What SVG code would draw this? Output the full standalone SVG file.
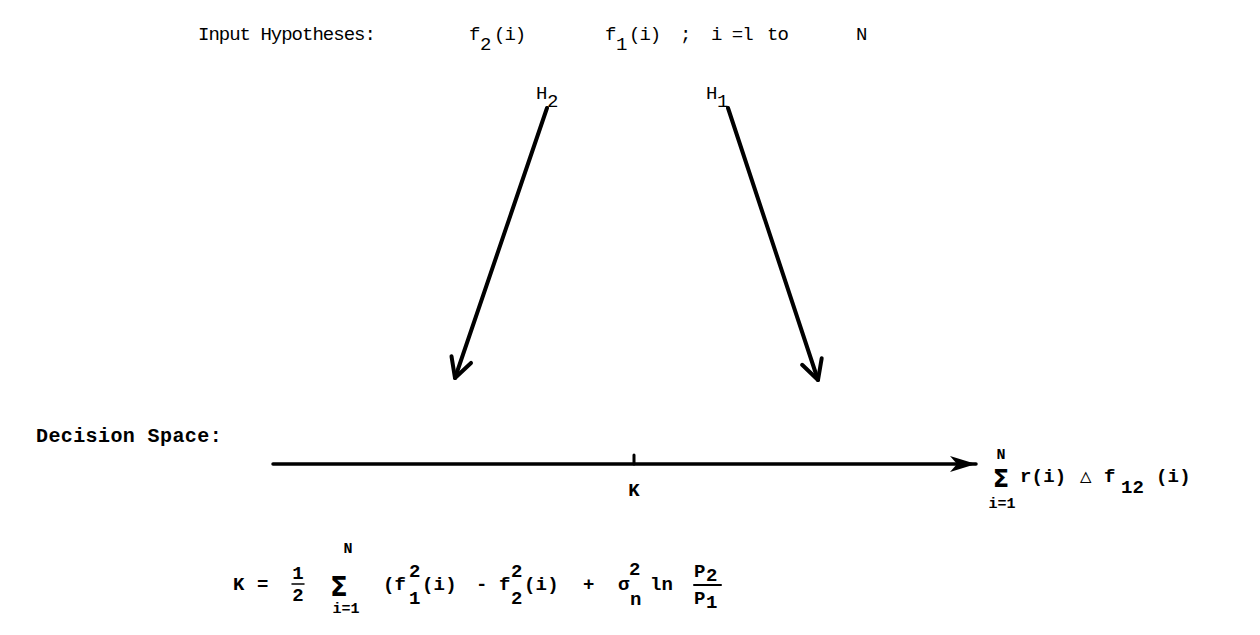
<svg xmlns="http://www.w3.org/2000/svg" width="1260" height="635" viewBox="0 0 1260 635">
<style>
.t{font-family:"Liberation Mono","Courier New",monospace;font-size:19px;fill:#000}
.n{letter-spacing:-1px}
.d{font-size:20px;letter-spacing:0.4px;font-weight:bold}
.b{font-weight:bold;font-size:19px;letter-spacing:0.2px}
.s{font-size:15px;letter-spacing:0}
.m{text-anchor:middle;letter-spacing:0}
.g{font-family:"DejaVu Sans",sans-serif;font-weight:bold;text-anchor:middle;fill:#000}
.ln{stroke:#000;fill:none;stroke-linecap:round;stroke-linejoin:round}
</style>
<defs>
<marker id="vee" markerUnits="userSpaceOnUse" viewBox="-26 -14 30 28" refX="0" refY="0" markerWidth="30" markerHeight="28" orient="auto">
<path d="M-19.4,-10.3 L0,0 L-19.4,10.3" fill="none" stroke="#000" stroke-width="4" stroke-linecap="round" stroke-linejoin="round"/>
</marker>
<marker id="solid" markerUnits="userSpaceOnUse" viewBox="-28 -10 30 20" refX="0" refY="0" markerWidth="30" markerHeight="20" orient="auto">
<path d="M0,0 L-26,-8 L-19,0 L-26,8 Z" fill="#000"/>
</marker>
</defs>
<rect width="1260" height="635" fill="#fff"/>

<g id="input-hypotheses">
<text class="t n" x="198" y="40">Input Hypotheses:</text>
<text class="t" x="469" y="40">f</text><text class="t" x="480" y="50">2</text><text class="t n" x="494" y="40">(i)</text>
<text class="t" x="605" y="40">f</text><text class="t" x="616" y="50">1</text><text class="t n" x="629" y="40">(i)</text>
<text class="t" x="680" y="40">;</text>
<text class="t n" x="711" y="40">i =l</text>
<text class="t n" x="767" y="40">to</text>
<text class="t" x="856" y="40">N</text>
</g>

<g id="H2">
<text class="t" x="536" y="99">H</text><text class="t" x="547" y="107">2</text>
</g>
<g id="H1">
<text class="t" x="706" y="99">H</text><text class="t" x="717" y="107">1</text>
</g>

<g id="decision-space">
<text class="t d" x="36" y="442">Decision Space:</text>
</g>

<g id="K-point">
<text class="t b m" x="634" y="496">K</text>
</g>

<g id="statistic">
<text class="g" x="1001" y="487" font-size="24">Σ</text>
<text class="t b m s" x="1001" y="459" font-size="13">N</text>
<text class="t b m s" x="1002" y="508">i=1</text>
<text class="t b" x="1020" y="482" font-size="20">r(i)</text>
<text class="t b" x="1080" y="482" font-size="20">△</text>
<text class="t b" x="1104" y="482" font-size="20">f</text>
<text class="t b" x="1121" y="493" font-size="20">12</text>
<text class="t b" x="1156" y="482" font-size="20">(i)</text>
</g>

<g id="threshold-formula">
<text class="t b" x="233" y="590">K</text>
<text class="t b" x="257" y="590">=</text>
<text class="t b m" x="298" y="579" font-size="17">1</text>
<line class="ln" x1="292" y1="584" x2="304" y2="584" stroke-width="1.5"/>
<text class="t b m" x="298" y="601" font-size="17">2</text>
<text class="g" x="339" y="596" font-size="26">Σ</text>
<text class="t b m s" x="348" y="553">N</text>
<text class="t b m s" x="346" y="613">i=1</text>
<text class="t b" x="383" y="590">(f</text>
<text class="t b" x="409" y="577">2</text>
<text class="t b" x="409" y="604">1</text>
<text class="t b" x="422" y="590">(i)</text>
<text class="t b" x="476" y="590">-</text>
<text class="t b" x="499" y="590">f</text>
<text class="t b" x="511" y="577">2</text>
<text class="t b" x="511" y="604">2</text>
<text class="t b" x="524" y="590">(i)</text>
<text class="t b" x="583" y="590">+</text>
<text class="t b" x="618" y="590">σ</text>
<text class="t b" x="629" y="575">2</text>
<text class="t b" x="630" y="605">n</text>
<text class="t b" x="650" y="590">ln</text>
<text class="t b" x="694" y="577">P</text><text class="t b" x="706" y="581">2</text>
<line class="ln" x1="694" y1="585" x2="721" y2="585" stroke-width="2"/>
<text class="t b" x="694" y="604">P</text><text class="t b" x="706" y="608">1</text>
</g>

<g id="connectors">
<line class="ln" x1="547" y1="108" x2="455" y2="378" stroke-width="4" marker-end="url(#vee)"/>
<line class="ln" x1="728" y1="108" x2="818" y2="380" stroke-width="4" marker-end="url(#vee)"/>
<line class="ln" x1="273" y1="464" x2="976" y2="464" stroke-width="3.5" stroke-linecap="butt" marker-end="url(#solid)"/>
<line class="ln" x1="634" y1="455" x2="634" y2="464" stroke-width="3"/>
</g>
</svg>
